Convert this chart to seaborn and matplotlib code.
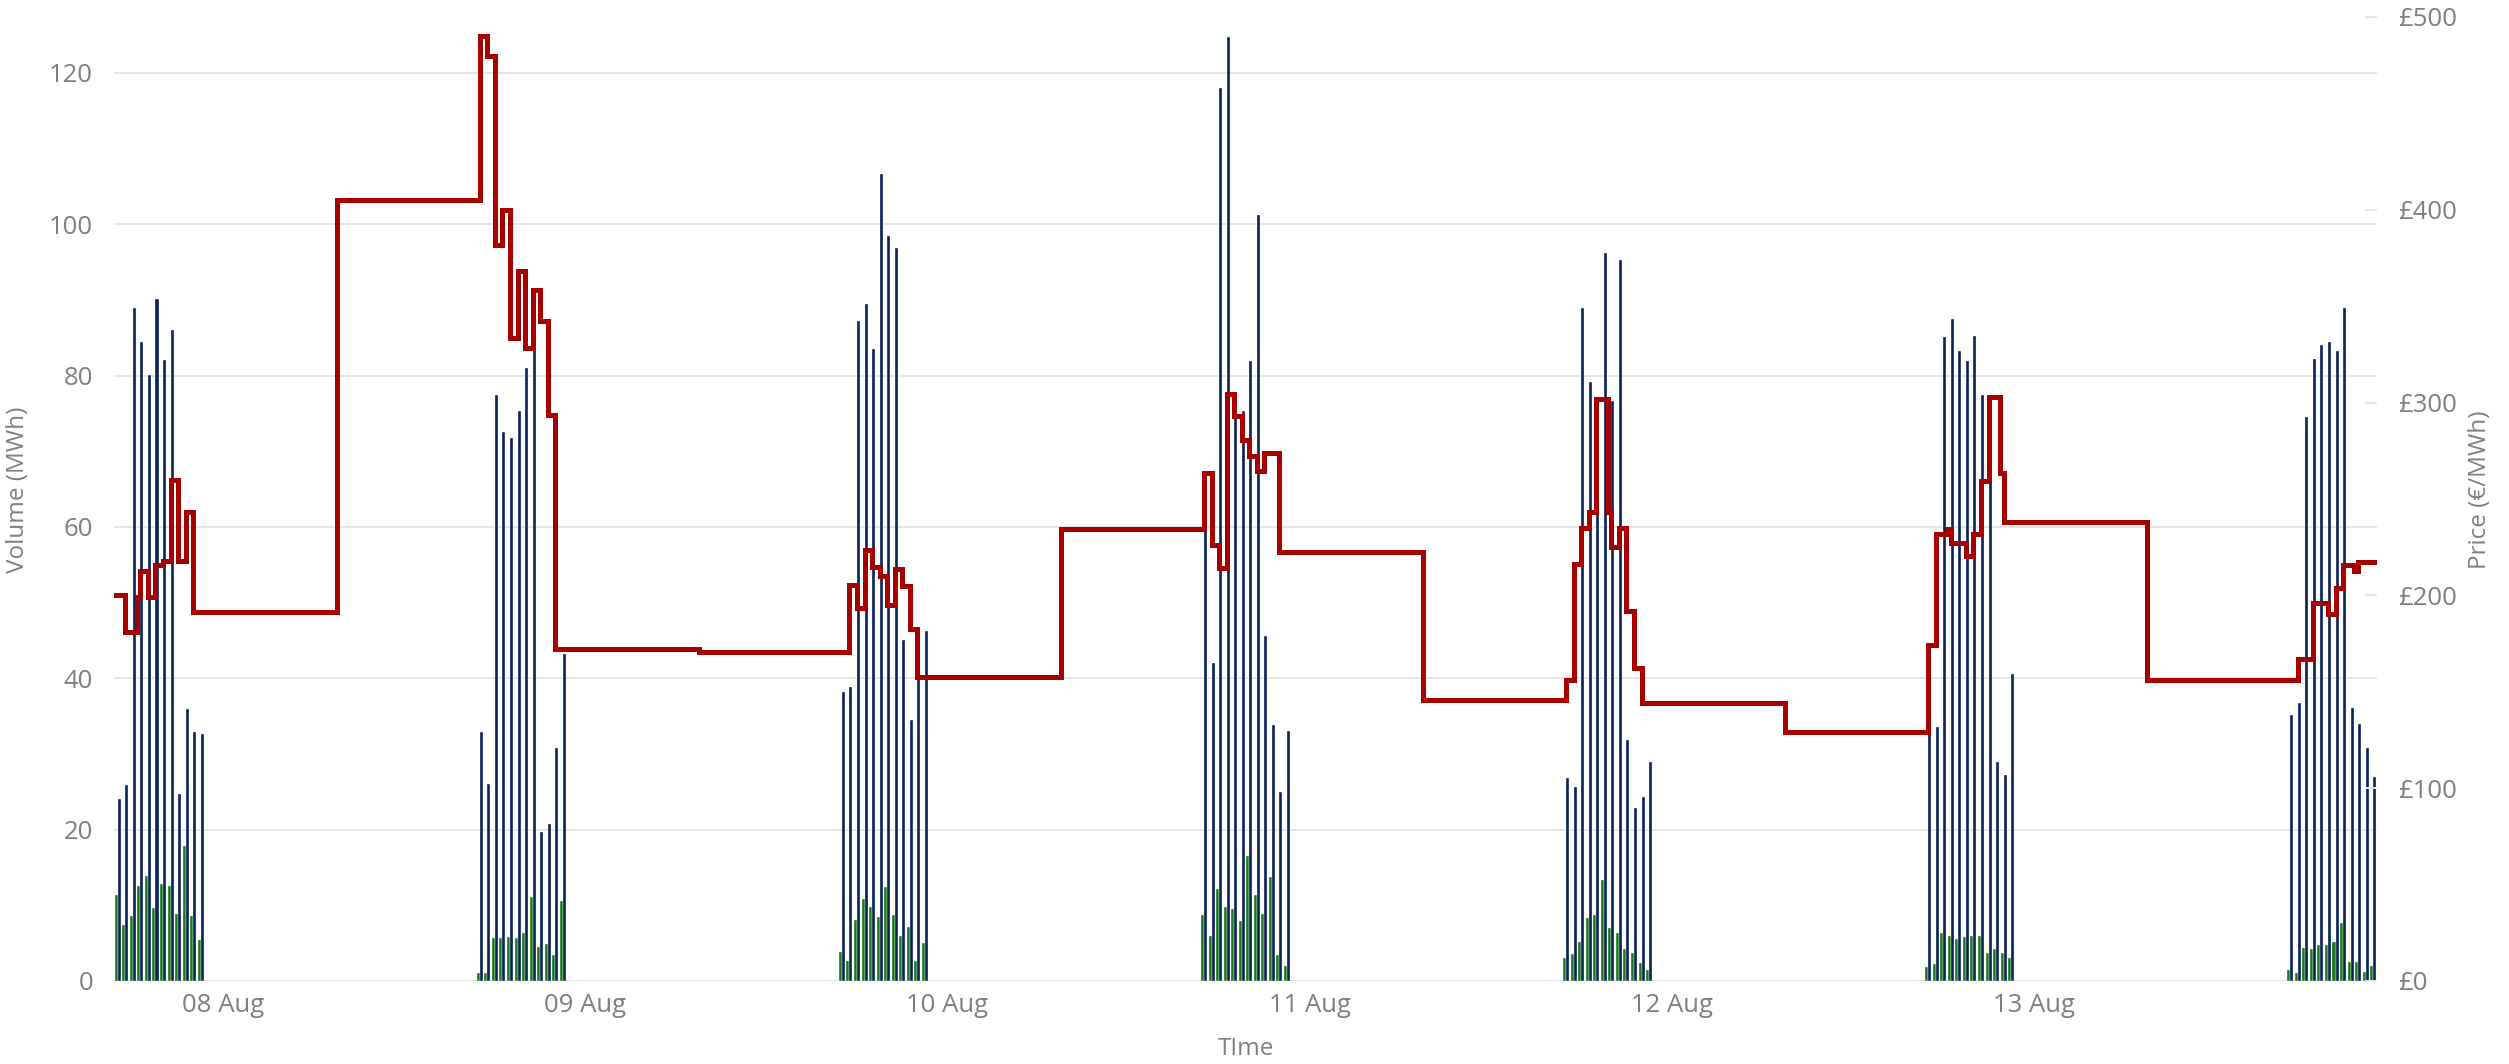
import matplotlib
matplotlib.use("Agg")
import matplotlib.pyplot as plt
import matplotlib.dates as mdates
import numpy as np
import pandas as pd
import seaborn as sns

# evening sessions, half-hourly slots from 17:00 to 22:30
session_days = ["2022-08-07", "2022-08-08", "2022-08-09", "2022-08-10",
                "2022-08-11", "2022-08-12", "2022-08-13"]
slots_per_session = 12

# navy bars (MWh)
bid_volume = [
    24.1, 25.9, 89.0, 84.5, 80.1, 90.1, 82.1, 86.0, 24.7, 35.9, 32.9, 32.6,
    32.9, 26.1, 77.4, 72.5, 71.7, 75.3, 81.0, 85.1, 19.7, 20.8, 30.8, 43.2,
    38.2, 38.8, 87.2, 89.5, 83.5, 106.7, 98.5, 96.9, 45.0, 34.5, 44.8, 46.3,
    63.5, 42.0, 118.0, 124.8, 74.4, 75.3, 81.9, 101.2, 45.6, 33.8, 25.0, 33.1,
    26.8, 25.7, 88.9, 79.2, 74.7, 96.2, 76.7, 95.3, 31.9, 22.9, 24.3, 28.9,
    35.9, 33.6, 85.1, 87.5, 83.3, 82.0, 85.2, 77.4, 72.6, 28.9, 27.2, 40.6,
    35.2, 36.7, 74.6, 82.2, 84.1, 84.5, 83.3, 89.0, 36.1, 34.0, 30.8, 27.0,
]

# green bars (MWh)
accepted_volume = [
    11.3, 7.4, 8.6, 12.6, 13.9, 9.6, 12.8, 12.6, 8.9, 17.9, 8.6, 5.4,
    1.1, 1.1, 5.7, 5.7, 5.8, 5.7, 6.4, 11.1, 4.5, 4.9, 3.5, 10.6,
    3.8, 2.7, 8.1, 10.9, 9.8, 8.4, 12.4, 8.7, 6.0, 7.2, 2.7, 5.0,
    8.7, 5.9, 12.1, 9.8, 9.5, 7.9, 16.5, 11.4, 8.9, 13.7, 3.5, 2.0,
    3.1, 3.6, 5.1, 8.3, 8.7, 13.3, 7.0, 6.3, 4.2, 3.7, 2.4, 1.5,
    1.8, 2.2, 6.4, 5.9, 5.6, 5.8, 5.9, 5.9, 3.7, 4.2, 3.7, 3.0,
    1.4, 1.1, 4.4, 4.2, 4.7, 4.7, 5.2, 7.7, 2.5, 2.5, 1.2, 2.0,
]

# price steps (each value holds until the next time)
price_times = [
    "2022-08-07 16:30", "2022-08-07 17:30", "2022-08-07 18:15", "2022-08-07 18:30",
    "2022-08-07 19:00", "2022-08-07 19:30", "2022-08-07 20:00", "2022-08-07 20:30",
    "2022-08-07 21:00", "2022-08-07 21:30", "2022-08-07 22:00",
    "2022-08-08 07:30", "2022-08-08 17:00", "2022-08-08 17:30", "2022-08-08 18:00",
    "2022-08-08 18:30", "2022-08-08 19:00", "2022-08-08 19:30", "2022-08-08 20:00",
    "2022-08-08 20:30", "2022-08-08 21:00", "2022-08-08 21:30", "2022-08-08 22:00",
    "2022-08-09 07:30", "2022-08-09 17:30", "2022-08-09 18:00", "2022-08-09 18:30",
    "2022-08-09 19:00", "2022-08-09 19:30", "2022-08-09 20:00", "2022-08-09 20:30",
    "2022-08-09 21:00", "2022-08-09 21:30", "2022-08-09 22:00",
    "2022-08-10 07:30", "2022-08-10 17:00", "2022-08-10 17:30", "2022-08-10 18:00",
    "2022-08-10 18:30", "2022-08-10 19:00", "2022-08-10 19:30", "2022-08-10 20:00",
    "2022-08-10 20:30", "2022-08-10 21:00", "2022-08-10 22:00",
    "2022-08-11 07:30", "2022-08-11 17:00", "2022-08-11 17:30", "2022-08-11 18:00",
    "2022-08-11 18:30", "2022-08-11 19:00", "2022-08-11 19:45", "2022-08-11 20:00",
    "2022-08-11 20:30", "2022-08-11 21:00", "2022-08-11 21:30", "2022-08-11 22:00",
    "2022-08-12 07:30", "2022-08-12 17:00", "2022-08-12 17:30", "2022-08-12 18:15",
    "2022-08-12 18:30", "2022-08-12 19:30", "2022-08-12 20:00", "2022-08-12 20:30",
    "2022-08-12 21:00", "2022-08-12 21:45", "2022-08-12 22:00",
    "2022-08-13 07:30", "2022-08-13 17:30", "2022-08-13 18:30", "2022-08-13 19:30",
    "2022-08-13 20:00", "2022-08-13 20:30", "2022-08-13 21:15", "2022-08-13 21:30",
    "2022-08-13 23:00",
]
price_values = [
    200.2, 181.0, 199.0, 212.6, 199.0, 216.0, 217.7, 259.6, 218.0, 243.4, 191.3,
    405.0, 490.0, 479.7, 381.5, 399.7, 333.5, 368.0, 328.5, 358.3, 342.4, 293.8, 172.1,
    170.7, 205.3, 193.5, 223.8, 214.6, 210.3, 194.9, 213.7, 204.7, 182.8, 157.5,
    234.5, 263.4, 226.0, 214.4, 304.7, 293.1, 280.6, 272.3, 264.7, 274.0, 222.7,
    146.0, 155.9, 216.1, 234.9, 243.5, 302.1, 243.5, 225.0, 234.9, 191.9, 162.1, 144.3,
    129.4, 174.1, 231.9, 234.3, 227.0, 220.4, 231.6, 259.1, 303.0, 263.4, 238.2,
    156.2, 167.1, 196.2, 190.6, 203.8, 215.8, 212.4, 217.1,
    217.1,
]

x_range = ["2022-08-07 16:45", "2022-08-13 22:45"]

sns.set_style("white")
plt.rcParams["font.family"] = ["Open Sans", "DejaVu Sans"]

NAVY = "#0a2356"
GREEN = "#187a18"
RED = "#a60000"
GREY = "#7f7f7f"
GRID = "#e6e6e6"

bar_times = np.concatenate([
    pd.date_range(d + " 17:00", periods=slots_per_session, freq="30min").values
    for d in session_days
])
bar_x = mdates.date2num(bar_times)
price_x = mdates.date2num(pd.to_datetime(price_times).values)

slot = 1 / 48
width = 0.4 * slot
offset = 0.2 * slot

fig = plt.figure(figsize=(25.09, 10.64), dpi=100)
ax = fig.add_axes([114 / 2509, 1 - 981 / 1064, (2377 - 114) / 2509, (981 - 17) / 1064])

ax.bar(bar_x - offset, accepted_volume, width=width, color=GREEN,
       edgecolor="white", linewidth=0.25)
ax.bar(bar_x + offset, bid_volume, width=width, color=NAVY,
       edgecolor="white", linewidth=0.25)

ax2 = ax.twinx()
sns.lineplot(x=price_x, y=price_values, ax=ax2, drawstyle="steps-post",
             color=RED, linewidth=3.6, estimator=None, sort=False,
             solid_joinstyle="miter")

ax.set_xlim(mdates.date2num(pd.to_datetime(x_range).values))
ax.xaxis.set_major_locator(mdates.DayLocator())
ax.xaxis.set_major_formatter(mdates.DateFormatter("%d %b"))

ax.set_ylim(0, 127.4)
ax.set_yticks(range(0, 121, 20))
ax2.set_ylim(0, 500)
ax2.set_yticks(range(0, 501, 100))
ax2.set_yticklabels([f"£{v}" for v in range(0, 501, 100)])

ax.set_axisbelow(True)
ax.grid(axis="y", color=GRID, linewidth=1.4)
ax.grid(axis="x", visible=False)
ax2.grid(False)
for a in (ax, ax2):
    for s in a.spines.values():
        s.set_visible(False)

ax.tick_params(axis="y", length=0, pad=15, labelsize=18.5, labelcolor=GREY)
ax.tick_params(axis="x", length=0, pad=9, labelsize=18.5, labelcolor=GREY)
ax2.tick_params(axis="y", direction="in", length=8.5, width=1.4, color=GRID,
                pad=15, labelsize=18.5, labelcolor=GREY)

ax.set_ylabel("Volume (MWh)", fontsize=17.5, color=GREY)
ax.yaxis.set_label_coords(-0.037, 0.51)
ax2.set_ylabel("Price (€/MWh)", fontsize=17.5, color=GREY)
ax2.yaxis.set_label_coords(1.040, 0.51)
ax.set_xlabel("TIme", fontsize=17.5, color=GREY)
ax.xaxis.set_label_coords(0.5, -0.058)

fig.savefig("out.png", dpi=100)
